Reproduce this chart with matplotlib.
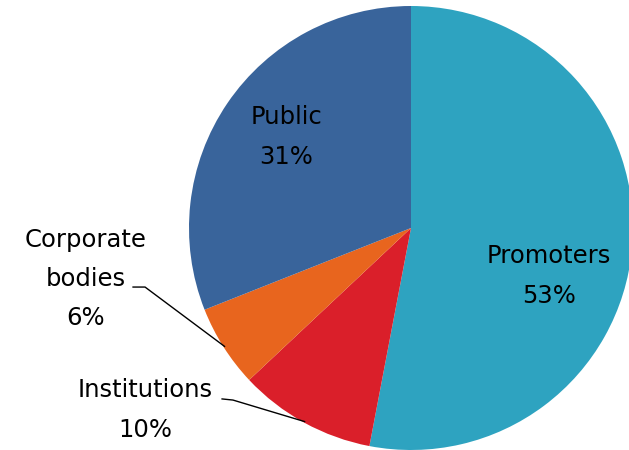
import numpy as np
import matplotlib.pyplot as plt

labels = ['Promoters', 'Institutions', 'Corporate\nbodies', 'Public']
shares = [53, 10, 6, 31]
colors = ['#2EA3C0', '#DA1F2A', '#E8651E', '#39649B']

fig = plt.figure(figsize=(6.29, 4.5), dpi=100)
# pie centre at (411, 228) px, radius 222 px
ax = fig.add_axes([(411 - 222) / 629, (450 - 228 - 222) / 450, 444 / 629, 444 / 450])
wedges, _ = ax.pie(shares, colors=colors, startangle=90, counterclock=False,
                   radius=1.0, wedgeprops=dict(linewidth=0))
ax.set_xlim(-1, 1)
ax.set_ylim(-1, 1)
ax.set_aspect('equal')
ax.axis('off')

font = dict(fontsize=17.5, color='black', ha='center', va='center', linespacing=1.8)

# labels inside the big slices
ax.text(0.622, -0.216, '%s\n%d%%' % (labels[0], shares[0]), **font)
ax.text(-0.563, 0.41, '%s\n%d%%' % (labels[3], shares[3]), **font)

# outside labels with leader lines
ax.text(-1.464, -0.23, '%s\n%d%%' % (labels[2], shares[2]), **font)
ax.text(-1.198, -0.82, '%s\n%d%%' % (labels[1], shares[1]), **font)


def mid_point(w, r=0.995):
    a = np.deg2rad((w.theta1 + w.theta2) / 2)
    return r * np.cos(a), r * np.sin(a)


ex, ey = mid_point(wedges[2])
ax.plot([-1.252, -1.198, ex], [-0.266, -0.266, ey], color='black', lw=1, clip_on=False)
ex, ey = mid_point(wedges[1])
ax.plot([-0.851, -0.802, ex], [-0.770, -0.775, ey], color='black', lw=1, clip_on=False)

fig.savefig('out.png', dpi=100)
